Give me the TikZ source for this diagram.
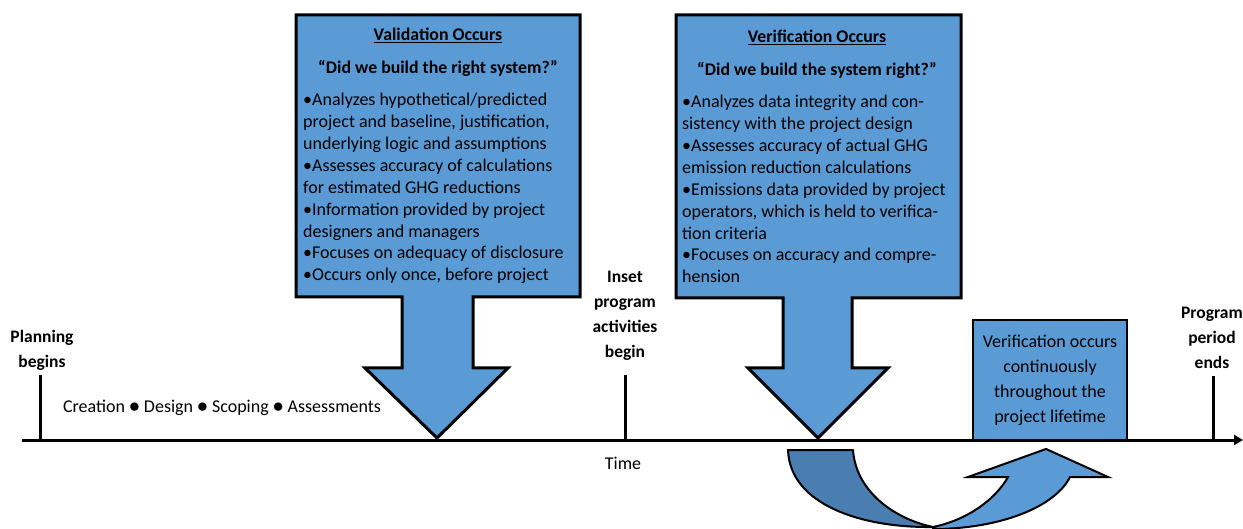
\documentclass[tikz,border=0pt]{standalone}
\usepackage{fontspec}
\setmainfont{Carlito}
\usetikzlibrary{arrows.meta}
\definecolor{calloutblue}{HTML}{5B9BD5}
\definecolor{darkblue}{HTML}{4A7DB0}
\newcommand{\phasedot}{\raisebox{0.3pt}{\scalebox{1.25}{$\bullet$}}}
\begin{document}
\begin{tikzpicture}[x=1pt,y=-1pt,
  callout/.style={draw=black,line width=3pt,fill=calloutblue,line join=miter},
  bodytext/.style={anchor=north west,inner sep=0pt,align=left,
    font=\fontsize{18}{21.9}\selectfont},
  headtext/.style={inner sep=0pt,font=\bfseries\fontsize{17.8}{20}\selectfont},
  milestone/.style={inner sep=0pt,align=center,
    font=\bfseries\fontsize{17.5}{25}\selectfont},
  plaintext/.style={inner sep=0pt,font=\fontsize{18}{20}\selectfont},
  tick/.style={line width=3pt}]
\useasboundingbox (0,0) rectangle (1243,529);

% validation callout
\draw[callout] (296,15) -- (580,15) -- (580,297) -- (473,297) -- (473,368)
  -- (508,368) -- (437,438) -- (365,368) -- (402,368) -- (402,297)
  -- (296,297) -- cycle;
\node[headtext] (valtitle) at (438,35) {\underline{Validation Occurs}};
\node[headtext] (valq) at (438,68) {“Did we build the right system?”};
\node[bodytext] (valbody) at (303,93) {%
•Analyzes hypothetical/predicted\\
project and baseline, justification,\\
underlying logic and assumptions\\
•Assesses accuracy of calculations\\
for estimated GHG reductions\\
•Information provided by project\\
designers and managers\\
•Focuses on adequacy of disclosure\\
•Occurs only once, before project};

% verification callout
\draw[callout] (676,15) -- (961,15) -- (961,298) -- (852,298) -- (852,368)
  -- (888,368) -- (818,438) -- (748,368) -- (783,368) -- (783,298)
  -- (676,298) -- cycle;
\node[headtext] (vertitle) at (817,37) {\underline{Verification Occurs}};
\node[headtext] (verq) at (817,70) {“Did we build the system right?”};
\node[bodytext] (verbody) at (682,95) {%
•Analyzes data integrity and con-\\
sistency with the project design\\
•Assesses accuracy of actual GHG\\
emission reduction calculations\\
•Emissions data provided by project\\
operators, which is held to verifica-\\
tion criteria\\
•Focuses on accuracy and compre-\\
hension};

% continuous verification box
\node[draw=black,line width=2pt,fill=calloutblue,minimum width=154pt,
  minimum height=120pt,inner sep=0pt,align=center,
  font=\fontsize{18}{25}\selectfont] (contbox) at (1050,380)
  {Verification occurs\\continuously\\throughout the\\project lifetime};

% timeline
\coordinate (tstart) at (22,440);
\coordinate (tend) at (1243,440);
\coordinate (plan) at (40,440);
\coordinate (planup) at (40,375);
\coordinate (inset) at (625,440);
\coordinate (insetup) at (625,375);
\coordinate (ends) at (1213,440);
\coordinate (endsup) at (1213,376);
\draw[tick] (plan) -- (planup);
\draw[tick] (inset) -- (insetup);
\draw[tick] (ends) -- (endsup);
\draw[line width=3pt,-{Triangle[length=9pt,width=10pt]}] (tstart) -- (tend);

\node[milestone] (planlbl) at (42,350) {Planning\\begins};
\node[milestone] (insetlbl) at (625,316) {Inset\\program\\activities\\begin};
\node[milestone] (endslbl) at (1212,338) {Program\\period\\ends};
\node[plaintext] (phases) at (222,408)
  {Creation \phasedot{} Design \phasedot{} Scoping \phasedot{} Assessments};
\node[plaintext] (timelbl) at (623,463) {Time};

% curved arrow below the timeline
\draw[line width=2pt,fill=darkblue,line join=round]
  (788,450) -- (853,450) .. controls (856,492) and (895,519) .. (933,527)
  .. controls (862,528) and (790,505) .. (788,450) -- cycle;
\draw[line width=2pt,fill=calloutblue,line join=miter]
  (933,527) .. controls (967,520) and (995,500) .. (1008,477)
  -- (968,477) -- (1046,449) -- (1108,477) -- (1070,477)
  .. controls (1055,507) and (1000,529) .. (933,529) -- cycle;
\end{tikzpicture}
\end{document}
